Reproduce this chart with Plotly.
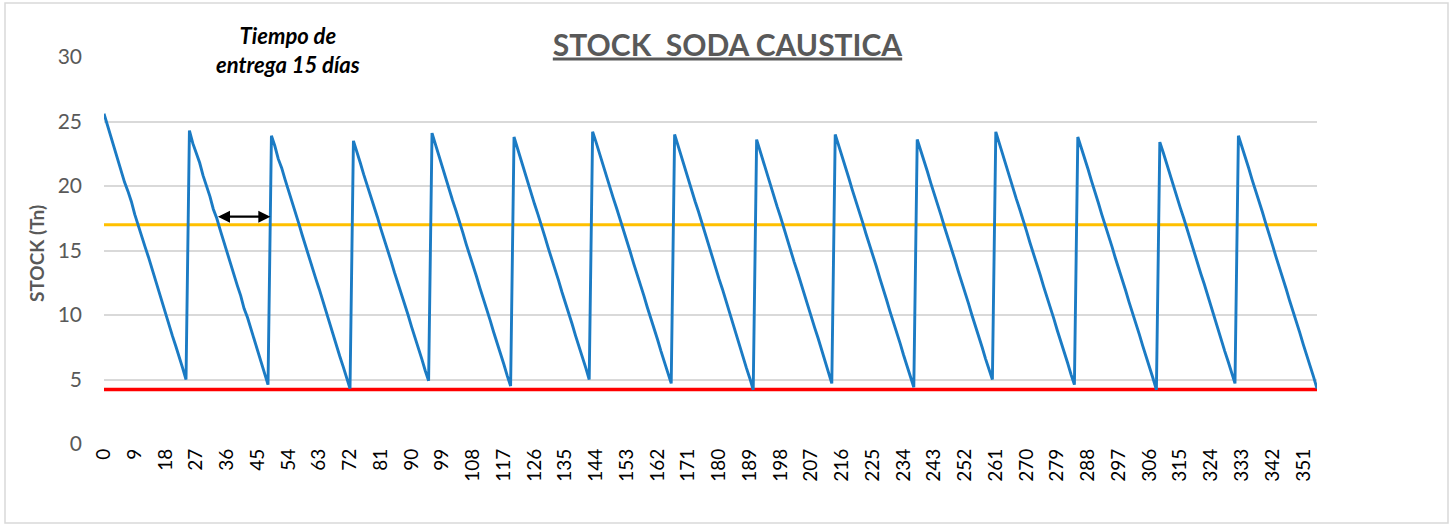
import plotly.graph_objects as go

# ---- data ----
c01 = [25.6, 24.7, 23.9, 23.0, 22.2, 21.3, 20.3, 19.6, 18.8, 17.8, 16.9, 16.2, 15.3,
       14.5, 13.6, 12.7, 11.9, 10.9, 10.2, 9.3, 8.4, 7.6, 6.8, 5.9, 5.0]
c02 = [24.3, 23.3, 22.6, 21.8, 20.8, 20.0, 19.2, 18.2, 17.5, 16.6, 15.7, 14.8, 14.1,
       13.1, 12.3, 11.5, 10.5, 9.8, 8.9, 8.0, 7.2, 6.3, 5.5, 4.6]
c03 = [23.9, 23.1, 22.1, 21.4, 20.5, 19.6, 18.8, 17.9, 17.1, 16.2, 15.3, 14.6, 13.6,
       12.8, 12.0, 11.1, 10.2, 9.4, 8.6, 7.7, 6.8, 6.0, 5.1, 4.3]
c04 = [23.5, 22.7, 21.8, 20.9, 20.1, 19.3, 18.4, 17.6, 16.7, 15.9, 15.1, 14.2, 13.3,
       12.5, 11.7, 10.8, 10.0, 9.1, 8.3, 7.4, 6.6, 5.7, 4.9]
c05 = [24.1, 23.2, 22.4, 21.5, 20.7, 19.8, 18.9, 18.1, 17.3, 16.4, 15.5, 14.7, 13.9,
       13.0, 12.1, 11.3, 10.5, 9.6, 8.7, 7.9, 7.0, 6.2, 5.3, 4.5]
c06 = [23.8, 22.9, 22.0, 21.2, 20.4, 19.5, 18.6, 17.8, 17.0, 16.1, 15.2, 14.4, 13.5,
       12.7, 11.8, 11.0, 10.1, 9.3, 8.4, 7.6, 6.7, 5.9, 5.0]
c07 = [24.2, 23.4, 22.5, 21.7, 20.8, 20.0, 19.1, 18.3, 17.4, 16.6, 15.7, 14.9, 14.0,
       13.2, 12.3, 11.5, 10.6, 9.8, 8.9, 8.1, 7.2, 6.4, 5.6, 4.7]
c08 = [24.0, 23.1, 22.3, 21.4, 20.6, 19.7, 18.8, 18.0, 17.1, 16.3, 15.4, 14.5, 13.7,
       12.8, 12.0, 11.1, 10.2, 9.4, 8.5, 7.7, 6.8, 5.9, 5.1, 4.2]
c09 = [23.6, 22.7, 21.8, 21.0, 20.1, 19.3, 18.4, 17.6, 16.7, 15.8, 15.0, 14.1, 13.3,
       12.4, 11.6, 10.7, 9.9, 9.0, 8.2, 7.3, 6.4, 5.6, 4.7]
c10 = [24.0, 23.1, 22.3, 21.4, 20.6, 19.7, 18.9, 18.0, 17.2, 16.3, 15.5, 14.6, 13.8,
       12.9, 12.1, 11.2, 10.3, 9.5, 8.6, 7.8, 6.9, 6.1, 5.2, 4.4]
c11 = [23.6, 22.8, 21.9, 21.1, 20.2, 19.4, 18.5, 17.7, 16.8, 16.0, 15.1, 14.3, 13.4,
       12.6, 11.7, 10.9, 10.0, 9.2, 8.4, 7.5, 6.6, 5.8, 5.0]
c12 = [24.2, 23.3, 22.5, 21.6, 20.8, 19.9, 19.0, 18.2, 17.4, 16.5, 15.6, 14.8, 13.9,
       13.1, 12.2, 11.4, 10.5, 9.7, 8.8, 8.0, 7.1, 6.3, 5.4, 4.6]
c13 = [23.8, 23.0, 22.1, 21.3, 20.4, 19.6, 18.7, 17.8, 17.0, 16.1, 15.3, 14.4, 13.6,
       12.7, 11.9, 11.0, 10.2, 9.3, 8.5, 7.6, 6.8, 5.9, 5.1, 4.2]
c14 = [23.4, 22.6, 21.7, 20.9, 20.0, 19.2, 18.3, 17.5, 16.6, 15.8, 14.9, 14.1, 13.2,
       12.4, 11.5, 10.7, 9.8, 9.0, 8.1, 7.2, 6.4, 5.5, 4.7]
c15 = [23.9, 23.1, 22.2, 21.4, 20.5, 19.7, 18.8, 18.0, 17.1, 16.3, 15.4, 14.5, 13.7,
       12.8, 12.0, 11.1, 10.3, 9.4, 8.6, 7.7, 6.9, 6.0, 5.2, 4.3]

stock = (c01 + c02 + c03 + c04 + c05 + c06 + c07 + c08 + c09 + c10 + c11 + c12
         + c13 + c14 + c15)
days = list(range(len(stock)))           # 0 .. 355
punto_pedido = 17.0                      # yellow line
stock_seguridad = 4.22                   # red line
tick_vals = list(range(0, len(stock), 9))
tick_text = [str(v) for v in tick_vals]
y_ticks = [0, 5, 10, 15, 20, 25, 30]

# arrow "tiempo de entrega" (days, stock)
arrow_from = 32.9
arrow_to = 48.7
arrow_level = 17.62

FONT = "Lato, 'Open Sans', sans-serif"

fig = go.Figure()
fig.add_trace(go.Scatter(x=days, y=[punto_pedido] * len(days), mode="lines",
                         line=dict(color="#FFC000", width=3), hoverinfo="skip",
                         showlegend=False))
fig.add_trace(go.Scatter(x=days, y=[stock_seguridad] * len(days), mode="lines",
                         line=dict(color="#FF0000", width=3.5), hoverinfo="skip",
                         showlegend=False))
fig.add_trace(go.Scatter(x=days, y=stock, mode="lines",
                         line=dict(color="#1B7BC4", width=2.9), showlegend=False))

W, H = 1456, 524
L, R, T, B = 104, 1317, 57, 444
pw, ph = R - L, B - T


def px_x(px):
    return (px - L) / pw


def px_y(py):
    return (B - py) / ph


fig.update_layout(
    width=W, height=H,
    margin=dict(l=L, r=W - R, t=T, b=H - B, pad=0),
    paper_bgcolor="white", plot_bgcolor="white",
    font=dict(family=FONT),
    title=dict(text="<b><u>STOCK  SODA CAUSTICA</u></b>",
               font=dict(family=FONT, size=30, color="#595959"),
               x=727.5 / W, xanchor="center", xref="container",
               y=1 - 45 / H, yanchor="middle", yref="container"),
    xaxis=dict(range=[0, len(stock) - 1], tickmode="array", tickvals=tick_vals,
               ticktext=tick_text, tickangle=-90, showgrid=False, zeroline=False,
               showline=False, ticks="",
               tickfont=dict(family=FONT, size=19, color="#000000")),
    yaxis=dict(range=[0, 30], tickvals=y_ticks, showgrid=True, gridcolor="#D9D9D9",
               gridwidth=1.6, zeroline=False, showline=False, ticks="",
               ticklabelstandoff=21,
               tickfont=dict(family=FONT, size=21, color="#595959")),
    shapes=[dict(type="rect", xref="paper", yref="paper",
                 x0=px_x(5), x1=px_x(1448), y0=px_y(523), y1=px_y(3),
                 line=dict(color="#D9D9D9", width=1.5), layer="below")],
    annotations=[
        dict(x=arrow_to, y=arrow_level, ax=arrow_from, ay=arrow_level,
             xref="x", yref="y", axref="x", ayref="y", text="",
             showarrow=True, arrowhead=2, arrowside="end+start", arrowsize=1.1,
             arrowwidth=2.2, arrowcolor="#000000", standoff=0, startstandoff=0),
        dict(x=px_x(288), y=px_y(50), xref="paper", yref="paper",
             text="<b><i>Tiempo de<br>entrega 15 días</i></b>", showarrow=False,
             xanchor="center", yanchor="middle", align="center",
             font=dict(family=FONT, size=22, color="#000000")),
        dict(x=px_x(37), y=px_y(254), xref="paper", yref="paper",
             text="<b>STOCK (Tn)</b>", showarrow=False, textangle=-90,
             xanchor="center", yanchor="middle",
             font=dict(family=FONT, size=19, color="#595959")),
    ],
)

fig.write_html("out.html", config={"displayModeBar": False},
               post_script="document.body.style.margin='0';document.body.style.padding='0';")
